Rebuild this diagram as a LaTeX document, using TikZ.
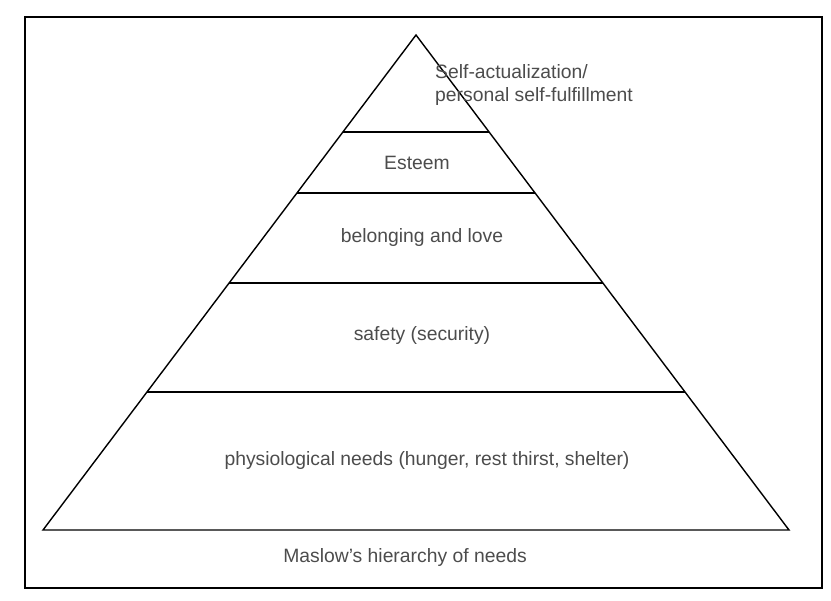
\documentclass[tikz,border=0pt]{standalone}
\usepackage{fontspec}
\setmainfont{Liberation Sans}
\usetikzlibrary{positioning,calc}

\begin{document}
\begin{tikzpicture}[
    x=0.02cm,y=-0.02cm,
    tier/.style={font=\fontsize{11}{13}\selectfont,text=black!70},
    edge/.style={draw,line width=0.8pt},
]
\useasboundingbox (0,0) rectangle (831,601);
% outer frame
\draw[line width=1pt] (25,17) rectangle (822,588);
% the pyramid
\coordinate (apex)  at (416,35);
\coordinate (baseL) at (43,530);
\coordinate (baseR) at (789,530);
\draw[edge] (baseL) -- (apex) -- (baseR) -- cycle;
% dividing lines between the tiers
\foreach \f/\n in {0.196/a,0.319/b,0.501/c,0.721/d}{
  \coordinate (\n L) at ($(apex)!\f!(baseL)$);
  \coordinate (\n R) at ($(apex)!\f!(baseR)$);
  \draw[edge] (\n L) -- (\n R);
}
% tier labels
\node[tier,align=left,anchor=west] (self) at (429,85) {Self-actualization/\\personal self-fulfillment};
\node[tier] (esteem) at (417,163) {Esteem};
\node[tier] (love)   at (422,238) {belonging and love};
\node[tier] (safety) at (422,336) {safety (security)};
\node[tier] (body)   at (427,460) {physiological needs (hunger, rest thirst, shelter)};
% caption under the pyramid
\node[tier] (title) at (405,557) {Maslow’s hierarchy of needs};
\end{tikzpicture}
\end{document}
